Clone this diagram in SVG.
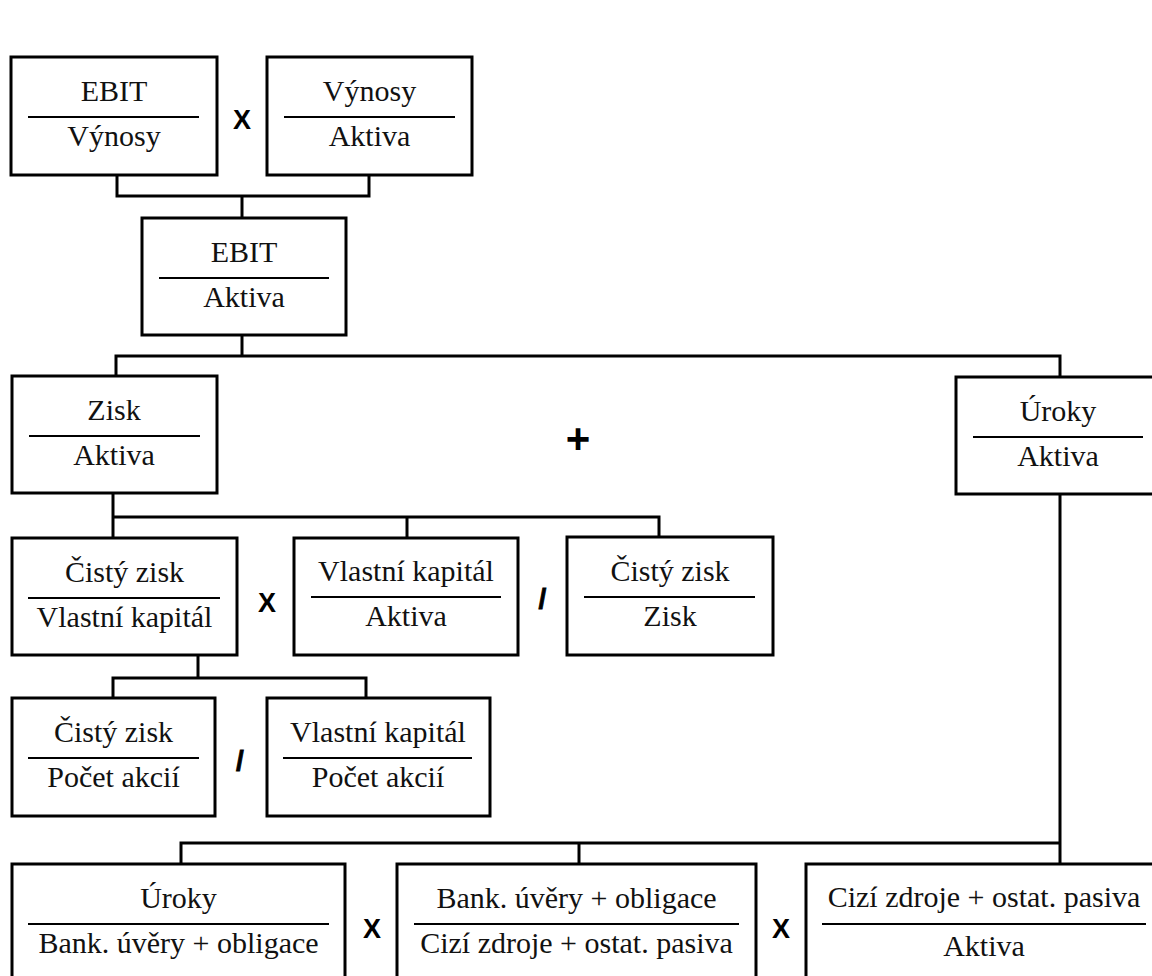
<svg xmlns="http://www.w3.org/2000/svg" width="1152" height="976" viewBox="0 0 1152 976">
<style>
.box{fill:#fff;stroke:#000;stroke-width:3}
.div{stroke:#000;stroke-width:1.8}
.t{font-family:"Liberation Serif","Times New Roman",serif;font-size:30px;fill:#111;text-anchor:middle}
.op{font-family:"Liberation Sans",Arial,sans-serif;font-weight:bold;fill:#000;text-anchor:middle}
.con{fill:none;stroke:#000;stroke-width:3}
</style>
<rect x="0" y="0" width="1152" height="976" fill="#fff"/>
<g id="connectors" class="con">
<path d="M117,175 V196 H369 V175"/>
<path d="M242,196 V218"/>
<path d="M242,335 V356"/>
<path d="M116,376 V356 H1060 V377"/>
<path d="M113,493 V538"/>
<path d="M113,517 H659 V537"/>
<path d="M407,517 V538"/>
<path d="M198,655 V678"/>
<path d="M113,698 V678 H366 V698"/>
<path d="M1060,494 V864"/>
<path d="M181,864 V843 H1060"/>
<path d="M579,843 V864"/>
</g>
<g id="ebit-vynosy">
<rect class="box" x="11" y="57" width="206" height="118"/>
<line class="div" x1="28" y1="117" x2="199" y2="117"/>
<text class="t" x="114" y="101">EBIT</text>
<text class="t" x="114" y="146">Výnosy</text>
</g>
<g id="vynosy-aktiva">
<rect class="box" x="267" y="57" width="205" height="118"/>
<line class="div" x1="284" y1="117" x2="455" y2="117"/>
<text class="t" x="369.5" y="101">Výnosy</text>
<text class="t" x="369.5" y="146">Aktiva</text>
</g>
<g id="ebit-aktiva">
<rect class="box" x="142" y="218" width="204" height="117"/>
<line class="div" x1="159" y1="278" x2="329" y2="278"/>
<text class="t" x="244" y="262">EBIT</text>
<text class="t" x="244" y="307">Aktiva</text>
</g>
<g id="zisk-aktiva">
<rect class="box" x="12" y="376" width="205" height="117"/>
<line class="div" x1="29" y1="436" x2="200" y2="436"/>
<text class="t" x="114" y="420">Zisk</text>
<text class="t" x="114" y="465">Aktiva</text>
</g>
<g id="uroky-aktiva">
<rect class="box" x="956" y="377" width="210" height="117"/>
<line class="div" x1="973" y1="437" x2="1143" y2="437"/>
<text class="t" x="1058" y="421">Úroky</text>
<text class="t" x="1058" y="466">Aktiva</text>
</g>
<g id="cisty-zisk-vk">
<rect class="box" x="12" y="538" width="225" height="117"/>
<line class="div" x1="28" y1="598" x2="220" y2="598"/>
<text class="t" x="124.5" y="582">Čistý zisk</text>
<text class="t" x="124.5" y="627">Vlastní kapitál</text>
</g>
<g id="vk-aktiva">
<rect class="box" x="294" y="538" width="224" height="117"/>
<line class="div" x1="311" y1="597" x2="501" y2="597"/>
<text class="t" x="406" y="581">Vlastní kapitál</text>
<text class="t" x="406" y="626">Aktiva</text>
</g>
<g id="cisty-zisk-zisk">
<rect class="box" x="567" y="537" width="206" height="118"/>
<line class="div" x1="584" y1="597" x2="755" y2="597"/>
<text class="t" x="670" y="581">Čistý zisk</text>
<text class="t" x="670" y="626">Zisk</text>
</g>
<g id="cisty-zisk-pocet">
<rect class="box" x="12" y="698" width="203" height="118"/>
<line class="div" x1="28" y1="758" x2="199" y2="758"/>
<text class="t" x="113.5" y="742">Čistý zisk</text>
<text class="t" x="113.5" y="787">Počet akcií</text>
</g>
<g id="vk-pocet">
<rect class="box" x="267" y="698" width="223" height="118"/>
<line class="div" x1="283" y1="758" x2="472" y2="758"/>
<text class="t" x="378" y="742">Vlastní kapitál</text>
<text class="t" x="378" y="787">Počet akcií</text>
</g>
<g id="uroky-bank">
<rect class="box" x="12" y="864" width="333" height="130"/>
<line class="div" x1="28" y1="924" x2="329" y2="924"/>
<text class="t" x="178.5" y="908">Úroky</text>
<text class="t" x="178.5" y="953">Bank. úvěry + obligace</text>
</g>
<g id="bank-cizi">
<rect class="box" x="397" y="864" width="359" height="130"/>
<line class="div" x1="414" y1="924" x2="739" y2="924"/>
<text class="t" x="576.5" y="908">Bank. úvěry + obligace</text>
<text class="t" x="576.5" y="953">Cizí zdroje + ostat. pasiva</text>
</g>
<g id="cizi-aktiva">
<rect class="box" x="806" y="864" width="360" height="130"/>
<line class="div" x1="822" y1="924" x2="1146" y2="924"/>
<text class="t" x="984" y="907">Cizí zdroje + ostat. pasiva</text>
<text class="t" x="984" y="956">Aktiva</text>
</g>
<g id="operators">
<text class="op" x="242" y="129" font-size="27">X</text>
<text class="op" x="267" y="612" font-size="27">X</text>
<text class="op" x="372" y="938" font-size="27">X</text>
<text class="op" x="781" y="938" font-size="27">X</text>
<text class="op" x="578" y="453" font-size="42">+</text>
<text class="op" x="542.5" y="608" font-size="28" stroke="#000" stroke-width="0.8">/</text>
<text class="op" x="240" y="770" font-size="28" stroke="#000" stroke-width="0.8">/</text>
</g>
</svg>
